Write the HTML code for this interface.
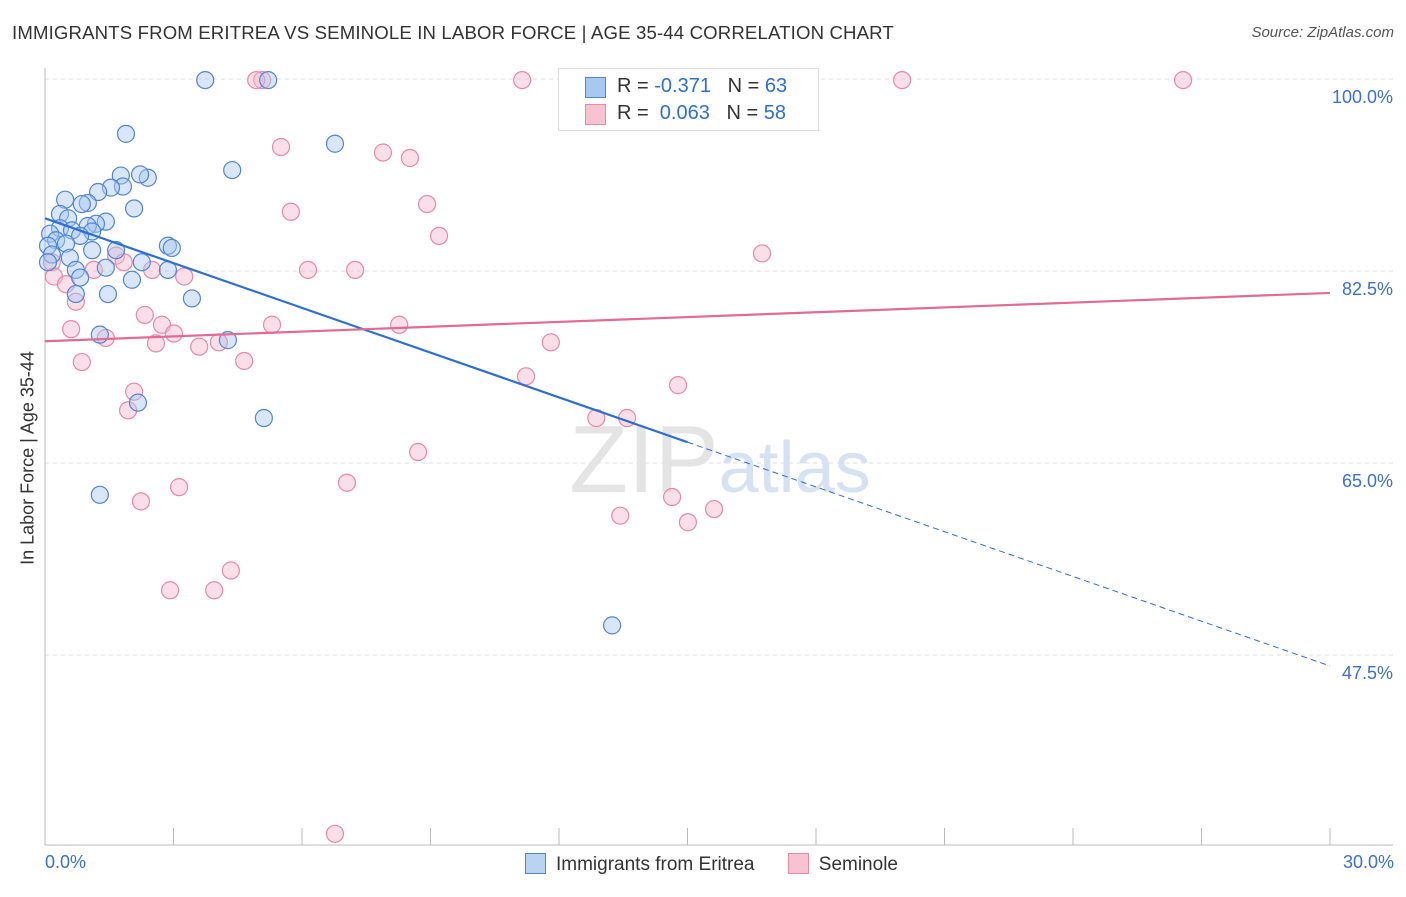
<!DOCTYPE html>
<html><head><meta charset="utf-8"><style>
body{margin:0;background:#fff;font-family:"Liberation Sans",sans-serif}
svg text{font-family:"Liberation Sans",sans-serif}
</style></head><body>
<svg id="c" width="1406" height="892"></svg>
<script>
const blueX=[3.74,5.21,1.89,6.77,4.37,1.77,2.40,2.22,1.82,1.54,1.24,0.47,1.00,0.86,2.08,0.35,0.54,1.42,1.19,1.00,0.35,0.63,1.10,0.12,0.82,0.26,0.49,0.07,2.87,2.96,1.10,1.66,0.16,0.58,2.26,0.07,1.42,0.72,2.87,0.82,2.03,0.72,1.47,3.43,4.27,1.28,2.17,5.11,1.28,13.24];
const blueY=[99.9,99.9,95.0,94.1,91.7,91.2,91.0,91.3,90.2,90.1,89.7,89.0,88.7,88.6,88.2,87.7,87.3,87.0,86.8,86.6,86.4,86.2,86.1,85.9,85.7,85.3,85.0,84.8,84.8,84.6,84.4,84.4,84.0,83.7,83.3,83.3,82.8,82.6,82.6,81.9,81.7,80.4,80.4,80.0,76.2,76.7,70.5,69.1,62.1,50.2];
const pinkX=[5.07,4.93,11.14,20.01,26.57,5.51,7.89,8.52,5.74,8.92,9.20,16.74,6.14,7.24,0.16,1.66,1.84,2.50,3.25,1.14,0.21,0.49,0.72,2.33,2.73,3.01,5.30,8.27,0.61,1.42,2.59,3.60,4.06,11.81,0.86,4.65,11.23,14.78,2.08,1.94,12.87,13.59,8.71,3.13,7.05,2.24,14.64,15.62,13.43,15.01,4.34,2.92,3.95,6.77];
const pinkY=[99.9,99.9,99.9,99.9,99.9,93.8,93.3,92.8,87.9,88.6,85.7,84.1,82.6,82.6,83.3,83.9,83.3,82.6,82.0,82.6,82.0,81.3,79.7,78.5,77.6,76.8,77.6,77.6,77.2,76.4,75.9,75.6,76.0,76.0,74.2,74.3,72.9,72.1,71.5,69.8,69.1,69.1,66.0,62.8,63.2,61.5,61.9,60.8,60.2,59.6,55.2,53.4,53.4,31.2];
const yTicks=[100,82.5,65,47.5];
const yTickLabels=["100.0%","82.5%","65.0%","47.5%"];
const blueTrend=[[0,87.3],[15,66.9],[30,46.5]];
const pinkTrend=[[0,76.1],[30,80.5]];
const X=v=>45+v/30*1285, Y=v=>79+(100-v)/17.5*192;
const s=document.getElementById('c'),NS="http://www.w3.org/2000/svg";
function mk(t,a,p){const e=document.createElementNS(NS,t);for(const k in a)e.setAttribute(k,a[k]);(p||s).appendChild(e);return e;}
yTicks.forEach((t,i)=>{
 const g=mk('line',{x1:45,x2:1393,y1:Y(t),y2:Y(t),stroke:'#ddd','stroke-dasharray':'4,4'});
 
 
 const tx=mk('text',{x:1393,y:Y(t)+24,'text-anchor':'end',fill:'#3b6fd4','font-size':18});
 tx.textContent=yTickLabels[i];
 
 
});
const ax=mk('line',{x1:45,x2:1393,y1:845,y2:845,stroke:'#bbb'});


const ay=mk('line',{x1:45,x2:45,y1:68,y2:845,stroke:'#bbb'});


for(let i=0;i<=10;i++){const t=mk('line',{x1:X(i*3),x2:X(i*3),y1:828,y2:845,stroke:'#bbb'});
 
 }
const wm=mk('text',{x:720,y:492,'text-anchor':'middle','font-size':96,fill:'#e4e4e4','font-family':'Liberation Serif'});
wm.innerHTML='ZIP<tspan fill="#d6e2f3" font-family="Liberation Sans" font-size="72">atlas</tspan>';


function pts(xs,ys,f,st,nm){xs.forEach((x,i)=>{const c=mk('circle',{cx:X(x),cy:Y(ys[i]),r:8.5,fill:f,stroke:st,'stroke-width':1.2,'fill-opacity':0.45});
 
 });}
pts(pinkX,pinkY,'#f7b9cb','#e889a6','seminole-point');
pts(blueX,blueY,'#a9c8f0','#4f86d8','eritrea-point');
const bl=mk('line',{x1:X(blueTrend[0][0]),y1:Y(blueTrend[0][1]),x2:X(blueTrend[1][0]),y2:Y(blueTrend[1][1]),stroke:'#2b6fd6','stroke-width':2.2});


const bd=mk('line',{x1:X(blueTrend[1][0]),y1:Y(blueTrend[1][1]),x2:X(blueTrend[2][0]),y2:Y(blueTrend[2][1]),stroke:'#2b6fd6','stroke-width':1,'stroke-dasharray':'6,4'});


const pl=mk('line',{x1:X(pinkTrend[0][0]),y1:Y(pinkTrend[0][1]),x2:X(pinkTrend[1][0]),y2:Y(pinkTrend[1][1]),stroke:'#e36a93','stroke-width':2.2});


</script>
<div style="position:absolute;left:12px;top:22px;font-size:18.6px;color:#333;letter-spacing:0.15px">IMMIGRANTS FROM ERITREA VS SEMINOLE IN LABOR FORCE | AGE 35-44 CORRELATION CHART</div>
<div style="position:absolute;right:12px;top:24px;font-size:15px;color:#555;font-style:italic">Source: ZipAtlas.com</div>
<div style="position:absolute;left:28px;top:458px;transform:translate(-50%,-50%) rotate(-90deg);font-size:18px;color:#333;white-space:nowrap">In Labor Force | Age 35-44</div>
<div style="position:absolute;left:45px;top:852px;font-size:18px;color:#3b6fd4">0.0%</div>
<div style="position:absolute;right:12px;top:852px;font-size:18px;color:#3b6fd4">30.0%</div>
<div style="position:absolute;left:558px;top:68px;width:259px;height:61px;border:1px solid #ddd;background:#fff;font-size:20px;color:#333">
 <div style="position:absolute;left:26px;top:8px;width:19px;height:19px;background:#a9c8f0;border:1px solid #4f86d8"></div>
 <div style="position:absolute;left:58px;top:6px">R = <span style="color:#2b6fd6">-0.371</span>&nbsp;&nbsp;&nbsp;N = <span style="color:#2b6fd6">63</span></div>
 <div style="position:absolute;left:26px;top:35px;width:19px;height:19px;background:#f7c3d2;border:1px solid #e889a6"></div>
 <div style="position:absolute;left:58px;top:33px">R = &nbsp;<span style="color:#2b6fd6">0.063</span>&nbsp;&nbsp;&nbsp;N = <span style="color:#2b6fd6">58</span></div>
</div>
<div style="position:absolute;left:525px;top:853px;font-size:19px;color:#333">
 <span><span style="display:inline-block;width:19px;height:19px;background:#b9d3f3;border:1px solid #4f86d8;vertical-align:-4px;margin-right:10px"></span>Immigrants from Eritrea</span>
 <span style="margin-left:28px"><span style="display:inline-block;width:19px;height:19px;background:#f7c3d2;border:1px solid #e889a6;vertical-align:-4px;margin-right:10px"></span>Seminole</span>
</div>
</body></html>
